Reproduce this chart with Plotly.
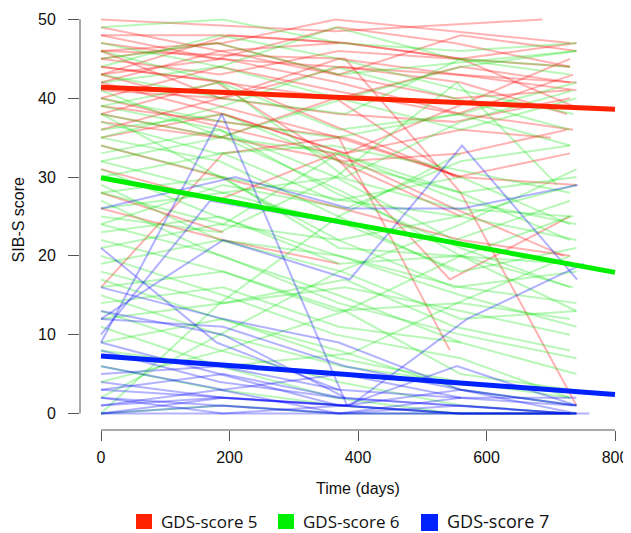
import plotly.graph_objects as go

# ---------------- data ----------------
red_days = [
    [0, 365, 687], [0, 190, 380, 560, 740], [0, 180, 370, 550, 730], [0, 190, 365, 730],
    [0, 185, 370, 730], [0, 180, 365, 545, 740], [0, 200, 380, 560, 735], [0, 190, 370, 560, 730],
    [0, 185, 365, 550, 730], [0, 190, 375, 560, 725], [0, 185, 370, 740], [0, 185, 360, 555, 735],
    [0, 190, 380, 560, 740], [0, 180, 370, 560], [0, 380, 560, 740], [0, 360, 543, 730],
    [0, 370, 543], [0, 200, 554, 730], [0, 380, 560, 725], [0, 190, 370, 560],
    [0, 190], [0, 185, 370, 550, 730], [0, 190, 380, 560, 700], [0, 185, 365, 550],
    [0, 190, 380, 730], [0, 180, 370, 560, 740], [0, 185, 375, 560, 730], [0, 190, 370, 560, 735],
    [0, 185, 370], [0, 180, 365, 550, 720], [0, 190, 370],
]
red_scores = [
    [50, 48.5, 50], [48, 48, 47, 45, 47], [47, 45, 49, 47, 44], [46, 47, 50, 47],
    [45, 43, 46, 44], [48, 45, 44, 43, 42], [43, 48, 47, 45, 39], [44, 42, 40, 44, 42],
    [42, 46, 43, 40, 41], [41, 40, 44, 42, 38], [46, 40, 45, 41], [40, 44, 41, 38, 43],
    [39, 37, 35, 30, 29], [38, 42, 32, 25], [46, 45, 28, 1], [40, 33, 17, 25],
    [43, 35, 8], [44, 42, 30, 33], [38, 32, 33, 36], [16, 33, 35, 30],
    [28, 23], [36, 40, 38, 37, 40], [35, 38, 33, 36, 35], [37, 35, 40, 30],
    [42, 38, 33, 45], [45, 47, 43, 48, 46], [34, 30, 26, 22, 20], [43, 45, 42, 38, 36],
    [49, 46, 47], [31, 27, 33, 26, 20], [26, 22, 19],
]

green_days = [
    [0, 190, 370, 560, 740], [0, 185, 365, 550, 730], [0, 180, 370, 740], [0, 190, 380, 560, 730],
    [0, 185, 370, 560, 740], [0, 190, 365, 555, 730], [0, 185, 380, 560, 735], [0, 190, 370, 560, 740],
    [0, 180, 360, 550, 730], [0, 190, 370, 560, 740], [0, 185, 370, 550], [0, 190, 380, 560, 740],
    [0, 185, 365, 560, 730], [0, 190, 370, 550, 735], [0, 180, 370, 560, 740], [0, 190, 365, 560, 730],
    [0, 185, 375, 560, 740], [0, 190, 370, 550, 730], [0, 185, 370, 560], [0, 190, 380, 560, 740],
    [0, 185, 365, 550, 730], [0, 190, 370, 560, 740], [0, 185, 370, 560, 735], [0, 190, 380, 560, 730],
    [0, 185, 370, 555, 740], [0, 190, 365, 560, 730], [0, 185, 370, 560, 740], [0, 190, 380, 550, 730],
    [0, 185, 370, 560, 740], [0, 190, 365, 560, 730], [0, 185, 375, 550], [0, 190, 370, 560, 740],
    [0, 185, 370, 560, 735], [0, 190, 380, 560, 730], [0, 185, 365, 550, 740], [0, 190, 370, 560, 730],
    [0, 185, 370, 560, 740], [0, 190, 380, 560, 730], [0, 185, 370, 560, 740], [0, 190, 365, 550, 730],
    [0, 185, 370, 560, 735], [0, 190, 380, 560, 740], [0, 185, 370, 560, 740], [0, 190, 365, 550, 730],
    [0, 185, 380, 560, 740], [0, 190, 370, 560, 730], [0, 185, 370, 550, 740], [0, 190, 380, 560, 730],
    [0, 185, 370, 560], [0, 190, 388, 554, 730], [0, 185, 365, 554, 710],
]
green_scores = [
    [49, 50, 47, 46, 47], [47, 44, 49, 45, 43], [45, 47, 43, 46], [43, 40, 38, 45, 44],
    [42, 44, 40, 36, 40], [40, 37, 35, 38, 34], [39, 42, 30, 37, 41], [38, 35, 33, 27, 24],
    [37, 33, 34, 31, 28], [36, 38, 32, 28, 30], [35, 32, 25, 18], [34, 30, 27, 25, 22],
    [33, 36, 28, 21, 16], [32, 28, 30, 26, 25], [31, 25, 20, 15, 11], [30, 33, 27, 30, 24],
    [29, 22, 18, 12, 13], [28, 30, 21, 20, 19], [27, 20, 15, 9], [26, 28, 24, 18, 21],
    [25, 23, 30, 22, 27], [24, 20, 14, 10, 7], [23, 25, 19, 20, 16], [22, 18, 13, 5, 3],
    [21, 24, 22, 25, 29], [20, 15, 10, 7, 2], [19, 22, 20, 16, 14], [18, 14, 17, 11, 8],
    [17, 12, 8, 3, 1], [16, 18, 13, 14, 12], [15, 10, 6, 4], [14, 16, 11, 9, 5],
    [13, 8, 4, 1, 0], [12, 14, 16, 13, 10], [11, 6, 2, 0, 0], [9, 12, 7, 4, 2],
    [6, 3, 1, 0, 0], [4, 8, 13, 20, 25], [2, 10, 18, 24, 31], [0, 1, 0, 0, 0],
    [44, 48, 45, 41, 38], [41, 35, 28, 20, 13], [46, 42, 36, 38, 42], [35, 39, 44, 40, 36],
    [32, 35, 40, 44, 46], [28, 24, 33, 28, 22], [38, 30, 22, 16, 18], [24, 29, 26, 32, 34],
    [0, 14, 25, 33], [8, 6, 7.6, 14, 20], [39, 36, 30, 42, 29],
]

blue_days = [
    [0, 188, 383], [0, 209, 387, 562, 742], [0, 190, 387, 562, 741], [0, 190, 388, 570, 751],
    [0, 190, 380, 560, 740], [0, 190, 375, 560, 760], [0, 185, 370, 560, 730], [0, 190, 380, 555, 740],
    [0, 185, 370, 560, 735], [0, 190, 375, 560, 740], [0, 185, 370, 550, 730], [0, 190, 380, 560, 740],
    [0, 190, 380], [0, 185, 370, 560], [0, 190, 380, 554, 740], [0, 190, 375, 560, 730],
    [0, 185, 370, 560, 740], [0, 190, 380, 560, 740], [0, 180, 370], [0, 190, 370, 560, 740],
    [0, 170, 380], [0, 185, 370, 560, 720],
]
blue_scores = [
    [9, 38, 1], [26, 30, 26, 26, 29], [12, 22, 17, 34, 17], [3, 2, 1, 12, 19],
    [0, 0, 0, 0, 0], [0, 1, 0, 0, 0], [2, 1, 0, 1, 0], [4, 2, 1, 0, 0],
    [5, 6, 3, 2, 1], [6, 3, 5, 2, 2], [8, 4, 2, 1, 0], [12, 11, 6, 3, 1],
    [13, 10, 2], [1, 3, 0, 2], [0, 2, 1, 6, 1], [3, 5, 2, 1, 0],
    [9, 5, 1, 0, 0], [2, 0, 1, 3, 0], [21, 9, 3], [16, 12, 9, 3, 1],
    [10, 27, 24], [1, 2, 1, 0, 0],
]

fit_days = [0, 800]
red_fit = [41.4, 38.6]
green_fit = [29.9, 17.9]
blue_fit = [7.3, 2.4]

x_ticks = [0, 200, 400, 600, 800]
y_ticks = [0, 10, 20, 30, 40, 50]
legend_labels = ["GDS-score 5", "GDS-score 6", "GDS-score 7"]

# ---------------- styling ----------------
RED_THIN = "rgba(255,0,0,0.3)"
GREEN_THIN = "rgba(0,225,0,0.28)"
BLUE_THIN = "rgba(0,0,255,0.3)"
RED = "#ff2200"
GREEN = "#00ee00"
BLUE = "#0022ff"
AXIS = "#555555"

OFF = 8  # page offset from default body margin
W, H = 631 - OFF, 533 - OFF
ML, MR, MT, MB = 72, 0, 0, 103
PW = W - ML - MR
PH = H - MT - MB


def px(xp):
    """page pixel x -> paper x"""
    return (xp - OFF - ML) / PW


def py(yp):
    """page pixel y -> paper y"""
    return (H - MB - (yp - OFF)) / PH


fig = go.Figure()

for days, scores, col in [(red_days, red_scores, RED_THIN),
                          (green_days, green_scores, GREEN_THIN),
                          (blue_days, blue_scores, BLUE_THIN)]:
    for d, s in zip(days, scores):
        fig.add_trace(go.Scatter(x=d, y=s, mode="lines",
                                 line=dict(color=col, width=2),
                                 showlegend=False, hoverinfo="skip"))

for fit, col in [(red_fit, RED), (green_fit, GREEN), (blue_fit, BLUE)]:
    fig.add_trace(go.Scatter(x=fit_days, y=fit, mode="lines",
                             line=dict(color=col, width=5),
                             showlegend=False, hoverinfo="skip"))

font_axis = dict(family="Liberation Sans, Arial, sans-serif", size=16, color="#111111")

fig.update_layout(
    width=W, height=H,
    margin=dict(l=ML, r=MR, t=MT, b=MB, pad=0),
    paper_bgcolor="white", plot_bgcolor="white",
    showlegend=False,
    xaxis=dict(range=[-32.7, 824.9], tickvals=x_ticks, ticktext=[str(v) for v in x_ticks],
               ticks="outside", ticklen=10, tickwidth=1, tickcolor=AXIS,
               showline=False, showgrid=False, zeroline=False,
               tickfont=font_axis, ticklabelstandoff=3),
    yaxis=dict(range=[-2.1, 51.45], tickvals=y_ticks, ticktext=[str(v) for v in y_ticks],
               ticks="outside", ticklen=11, tickwidth=1, tickcolor=AXIS,
               showline=False, showgrid=False, zeroline=False,
               tickfont=font_axis, ticklabelstandoff=9),
)

# R-style axis lines spanning first to last tick
fig.add_shape(type="line", xref="x", yref="paper", x0=x_ticks[0], x1=x_ticks[-1], y0=0, y1=0,
              line=dict(color=AXIS, width=1))
fig.add_shape(type="line", xref="paper", yref="y", x0=0, x1=0, y0=y_ticks[0], y1=y_ticks[-1],
              line=dict(color=AXIS, width=1))

# axis titles
fig.add_annotation(text="Time (days)", xref="x", yref="paper", x=400, y=py(488),
                   showarrow=False, xanchor="center", yanchor="middle", font=font_axis)
fig.add_annotation(text="SIB-S score", xref="paper", yref="y", x=px(18), y=24.5,
                   textangle=-90, showarrow=False, xanchor="center", yanchor="middle",
                   font=font_axis)

# legend (manual, bottom)
leg_items = [
    (legend_labels[0], RED, 136, 152, 514, 529, 160, 17),
    (legend_labels[1], GREEN, 278, 294, 514, 529, 302, 17),
    (legend_labels[2], BLUE, 421, 438, 514, 531, 446, 18),
]
for label, col, x0, x1, y0, y1, tx, fs in leg_items:
    fig.add_shape(type="rect", xref="paper", yref="paper",
                  x0=px(x0), x1=px(x1), y0=py(y1), y1=py(y0),
                  fillcolor=col, line=dict(width=0))
    fig.add_annotation(text=label, xref="paper", yref="paper", x=px(tx), y=py(521),
                       showarrow=False, xanchor="left", yanchor="middle", borderpad=0,
                       font=dict(family="Open Sans, Noto Sans, sans-serif", size=fs, color="#111111"))

fig.write_html("out.html")
